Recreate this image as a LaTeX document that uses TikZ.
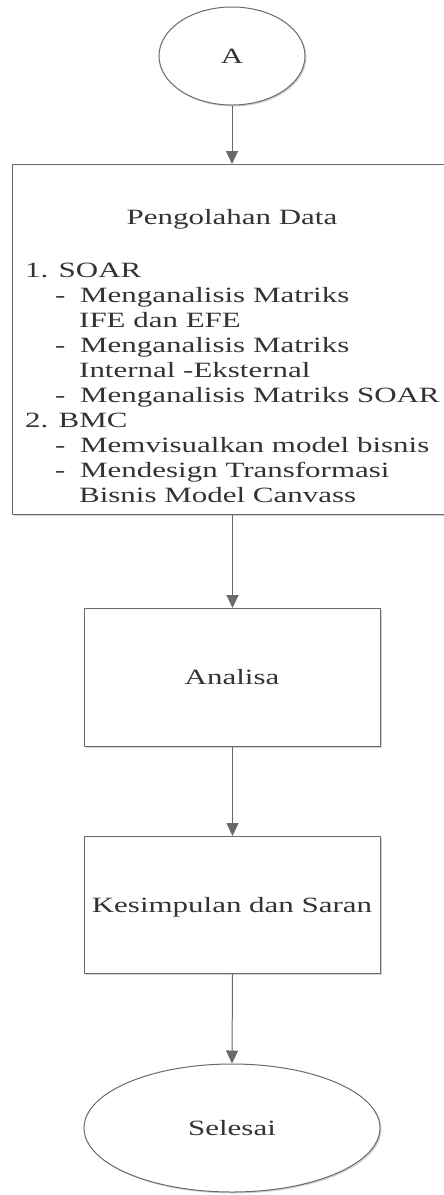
\documentclass[tikz,border=0pt]{standalone}
\usepackage{fontspec}
\setmainfont[FakeStretch=1.42]{Liberation Serif}
\usetikzlibrary{arrows.meta,shadows,shapes.geometric}
\definecolor{txt}{HTML}{333333}
\definecolor{ln}{HTML}{6A6A6A}
\begin{document}
\begin{tikzpicture}[x=1pt,y=-1pt,
  every node/.style={text=txt,font=\fontsize{21.8pt}{26pt}\selectfont},
  shp/.style={draw=ln,line width=1pt,fill=white,
    drop shadow={shadow xshift=1.5pt,shadow yshift=-1.5pt,opacity=0.35,fill=gray}},
  boxnode/.style={shp,rectangle,inner sep=0pt},
  ovalnode/.style={shp,ellipse,inner sep=0pt},
  lbl/.style={inner sep=0pt,anchor=base west},
  conn/.style={draw=ln,line width=1pt,-{Triangle[length=13pt,width=12pt]},fill=ln}]
\useasboundingbox (0,0) rectangle (444,1195);
\fill[white] (0,0) rectangle (444,1195);
% shapes
\node[ovalnode,minimum width=146pt,minimum height=98pt] (A) at (232,56) {};
\node[inner sep=0pt] (Atxt) at (232,56) {A};
\node[boxnode,minimum width=436pt,minimum height=350pt,anchor=north west] (proc) at (12,164) {};
\node[boxnode,minimum width=296pt,minimum height=138pt,anchor=north west] (anal) at (84,608) {};
\node[inner sep=0pt,anchor=base] (analtxt) at (232,684) {Analisa};
\node[boxnode,minimum width=296pt,minimum height=137pt,anchor=north west] (kes) at (84,836) {};
\node[inner sep=0pt,anchor=base] (kestxt) at (232,912) {Kesimpulan dan Saran};
\node[ovalnode,minimum width=296pt,minimum height=128pt] (end) at (232,1128) {};
\node[inner sep=0pt] (endtxt) at (232,1128) {Selesai};
% process text
\node[inner sep=0pt,anchor=base] (title) at (232,224) {Pengolahan Data};
\node[lbl] (l1) at (25,277) {1. SOAR};
\node[lbl] (d1) at (55,302.1) {-};
\node[lbl] (l2) at (80,302.1) {Menganalisis Matriks};
\node[lbl] (l3) at (79,327.2) {IFE dan EFE};
\node[lbl] (d2) at (55,352.3) {-};
\node[lbl] (l4) at (80,352.3) {Menganalisis Matriks};
\node[lbl] (l5) at (79,377.4) {Internal -Eksternal};
\node[lbl] (d3) at (55,402.5) {-};
\node[lbl] (l6) at (80,402.5) {Menganalisis Matriks SOAR};
\node[lbl] (l7) at (25,427.6) {2. BMC};
\node[lbl] (d4) at (55,452.7) {-};
\node[lbl] (l8) at (80,452.7) {Memvisualkan model bisnis};
\node[lbl] (d5) at (55,477.8) {-};
\node[lbl] (l9) at (80,477.8) {Mendesign Transformasi};
\node[lbl] (l10) at (79,502.9) {Bisnis Model Canvass};
% connectors
\draw[conn] (A.south) -- (A.south |- proc.north);
\draw[conn] (anal.north |- proc.south) -- (anal.north);
\draw[conn] (anal.south) -- (kes.north);
\draw[conn] (kes.south) -- (end.north);
\end{tikzpicture}
\end{document}
